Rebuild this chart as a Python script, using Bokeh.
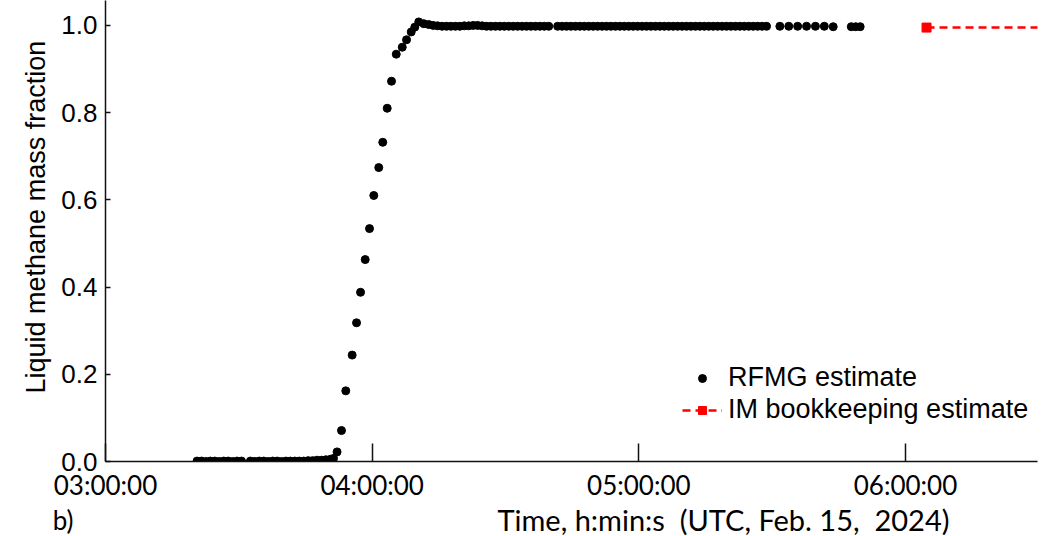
import math
from bokeh.plotting import figure
from bokeh.layouts import column
from bokeh.models import Range1d, FixedTicker, Legend, LegendItem, Label, Title
from bokeh.embed import file_html
from bokeh.resources import INLINE

# ---------------- data ----------------
rfmg_times = [
    # baseline, first block
    "03:20:36", "03:21:36", "03:22:36", "03:23:36", "03:24:36", "03:25:36",
    "03:26:36", "03:27:36", "03:28:36", "03:29:36", "03:30:36",
    # baseline, second block
    "03:32:36", "03:33:36", "03:34:36", "03:35:36", "03:36:36", "03:37:36",
    "03:38:36", "03:39:36", "03:40:36", "03:41:36", "03:42:36", "03:43:36",
    "03:44:36", "03:45:36", "03:46:36", "03:47:36", "03:48:36", "03:49:36",
    "03:50:36", "03:51:18", "03:52:06",
    # rise
    "03:53:06", "03:54:04", "03:55:30", "03:56:29", "03:57:23", "03:58:26",
    "03:59:24", "04:00:22", "04:01:29", "04:02:23", "04:03:23", "04:04:21",
    "04:05:25", "04:06:46", "04:07:44", "04:08:47", "04:09:35", "04:10:29",
    "04:11:37", "04:12:44",
    # plateau
    "04:13:44", "04:14:44", "04:15:44", "04:16:44", "04:17:44", "04:18:44",
    "04:19:44", "04:20:44", "04:21:44", "04:22:44", "04:23:44", "04:24:44",
    "04:25:44", "04:26:44", "04:27:44", "04:28:44", "04:29:44", "04:30:44",
    "04:31:44", "04:32:44", "04:33:44", "04:34:44", "04:35:44", "04:36:44",
    "04:37:44", "04:38:44", "04:39:44",
    "04:41:44", "04:42:44", "04:43:44", "04:44:44", "04:45:44", "04:46:44",
    "04:47:44", "04:48:44", "04:49:44", "04:50:44", "04:51:44", "04:52:44",
    "04:53:44", "04:54:44", "04:55:44", "04:56:44", "04:57:44", "04:58:44",
    "04:59:44", "05:00:44", "05:01:44", "05:02:44", "05:03:44", "05:04:44",
    "05:05:44", "05:06:44", "05:07:44", "05:08:44", "05:09:44", "05:10:44",
    "05:11:44", "05:12:44", "05:13:44", "05:14:44", "05:15:44", "05:16:44",
    "05:17:44", "05:18:44", "05:19:44", "05:20:44", "05:21:44", "05:22:44",
    "05:23:44", "05:24:44", "05:25:44", "05:26:44", "05:27:44", "05:28:44",
    "05:31:44", "05:33:44", "05:35:44", "05:37:44", "05:39:44", "05:41:44",
    "05:43:44",
    "05:47:48", "05:48:48", "05:49:48", "05:50:48",
]

rfmg_values = [
    0.001, 0.001, 0.000, 0.001, 0.001, 0.000, 0.001, 0.001, 0.000, 0.001, 0.001,
    0.001, 0.000, 0.001, 0.001, 0.000, 0.001, 0.001, 0.000, 0.001, 0.001, 0.001,
    0.001, 0.001, 0.002, 0.002, 0.003, 0.003, 0.004, 0.005, 0.007,
    0.022, 0.071, 0.162, 0.244, 0.318, 0.388, 0.463, 0.534, 0.610, 0.674,
    0.732, 0.810, 0.872, 0.934, 0.950, 0.967, 0.985, 0.996, 1.008, 1.004,
    1.002, 1.000, 0.999, 0.998, 0.998, 0.998, 0.998, 0.998, 0.999, 0.999,
    1.000, 1.000, 0.999, 0.998, 0.998, 0.998, 0.998, 0.998, 0.998, 0.998,
    0.998, 0.998, 0.998, 0.998, 0.998, 0.998, 0.998,
    0.998, 0.998, 0.998, 0.998, 0.998, 0.998, 0.998, 0.998, 0.998, 0.998,
    0.998, 0.998, 0.998, 0.998, 0.998, 0.998, 0.998, 0.998, 0.998, 0.998,
    0.998, 0.998, 0.998, 0.998, 0.998, 0.998, 0.998, 0.998, 0.998, 0.998,
    0.998, 0.998, 0.998, 0.998, 0.998, 0.998, 0.998, 0.998, 0.998, 0.998,
    0.998, 0.998, 0.998, 0.998, 0.998, 0.998, 0.998, 0.998,
    0.998, 0.998, 0.998, 0.998, 0.998, 0.998, 0.998,
    0.997, 0.997, 0.997, 0.997,
]

im_times = ["06:04:44", "06:30:00"]
im_values = [0.995, 0.995]

x_tick_labels = ["03:00:00", "04:00:00", "05:00:00", "06:00:00"]
y_tick_labels = ["0.0", "0.2", "0.4", "0.6", "0.8", "1.0"]

x_title = "Time, h:min:s\u00a0 (UTC, Feb.\u00a015,\u00a0 2024)"
y_title = "Liquid methane mass fraction"
panel_tag = "b)"


def to_min(s):
    h, m, sec = (int(v) for v in s.split(":"))
    return (h - 3) * 60 + m + sec / 60.0


rx = [to_min(t) for t in rfmg_times]
ix = [to_min(t) for t in im_times]
x_ticks = [to_min(t) for t in x_tick_labels]
y_ticks = [float(v) for v in y_tick_labels]

# ---------------- main figure ----------------
W = 1043
FRAME_L, FRAME_R = 105, 1037
p = figure(width=W, height=503, output_backend="svg", toolbar_location=None,
           x_range=Range1d(0, 209.7), y_range=Range1d(0, 1.0571),
           min_border_left=FRAME_L, min_border_right=W - FRAME_R,
           min_border_top=0, min_border_bottom=40)
p.outline_line_color = None
p.grid.visible = False
p.background_fill_color = "white"

r_rfmg = p.scatter(rx, rfmg_values, size=8, color="black")
r_im_line = p.line(ix, im_values, line_color="#ff0000", line_width=2.5,
                   line_dash="8 5")
r_im_sq = p.scatter(ix[:1], im_values[:1], marker="square", size=9,
                    color="#ff0000")

xa = p.xaxis[0]
xa.ticker = FixedTicker(ticks=x_ticks)
xa.major_label_overrides = {t: l for t, l in zip(x_ticks, x_tick_labels)}
xa.major_tick_in = 18
xa.major_tick_out = 0
xa.minor_tick_line_color = None
xa.major_label_standoff = 7
xa.major_label_text_font = "Lato"
xa.major_label_text_font_size = "26px"
xa.major_label_text_color = "black"
xa.axis_line_width = 1.5
xa.axis_line_color = "#111111"
xa.major_tick_line_width = 1.5
xa.major_tick_line_color = "#111111"

ya = p.yaxis[0]
ya.ticker = FixedTicker(ticks=y_ticks)
ya.major_label_overrides = {t: l for t, l in zip(y_ticks, y_tick_labels)}
ya.major_tick_in = 5
ya.major_tick_out = 0
ya.minor_tick_line_color = None
ya.major_label_standoff = 8
ya.major_label_text_font = "Liberation Sans"
ya.major_label_text_font_size = "26px"
ya.major_label_text_color = "black"
ya.axis_line_width = 1.5
ya.axis_line_color = "#111111"
ya.major_tick_line_width = 1.5
ya.major_tick_line_color = "#111111"

p.add_layout(Title(text=y_title, align="left", offset=68,
                   vertical_align="middle", standoff=14,
                   text_font="Liberation Sans", text_font_size="27px",
                   text_font_style="normal", text_color="black"), "left")

legend = Legend(items=[
    LegendItem(label="RFMG estimate", renderers=[r_rfmg]),
    LegendItem(label="IM bookkeeping estimate", renderers=[r_im_line, r_im_sq]),
], location=(577, 36))
legend.glyph_width = 40
legend.glyph_height = 20
legend.label_height = 27
legend.label_standoff = 6
legend.spacing = 1
legend.padding = 0
legend.margin = 0
legend.border_line_color = None
legend.background_fill_alpha = 0
legend.label_text_font = "Liberation Sans"
legend.label_text_font_size = "27px"
legend.label_text_color = "black"
p.add_layout(legend)

# ---------------- bottom caption strip ----------------
H2 = 33
p2 = figure(width=W, height=H2, output_backend="svg", toolbar_location=None,
            x_range=Range1d(FRAME_L, FRAME_R), y_range=Range1d(0, H2),
            min_border_left=FRAME_L, min_border_right=W - FRAME_R,
            min_border_top=0, min_border_bottom=0,
            x_axis_location=None, y_axis_location="left")
p2.outline_line_color = None
p2.grid.visible = False
ta = p2.yaxis[0]
ta.ticker = FixedTicker(ticks=[15])
ta.major_label_overrides = {15: panel_tag}
ta.axis_line_color = None
ta.major_tick_line_color = None
ta.minor_tick_line_color = None
ta.major_tick_in = 0
ta.major_tick_out = 0
ta.major_label_standoff = 32
ta.major_label_text_font = "Lato"
ta.major_label_text_font_size = "26px"
ta.major_label_text_color = "black"

p2.add_layout(Label(x=497, y=17, text=x_title, text_align="left",
                    text_baseline="middle", text_font="Lato",
                    text_font_size="29px", text_color="black"))

layout = column(p, p2, spacing=0)
open("out.html", "w").write(file_html(layout, INLINE))
